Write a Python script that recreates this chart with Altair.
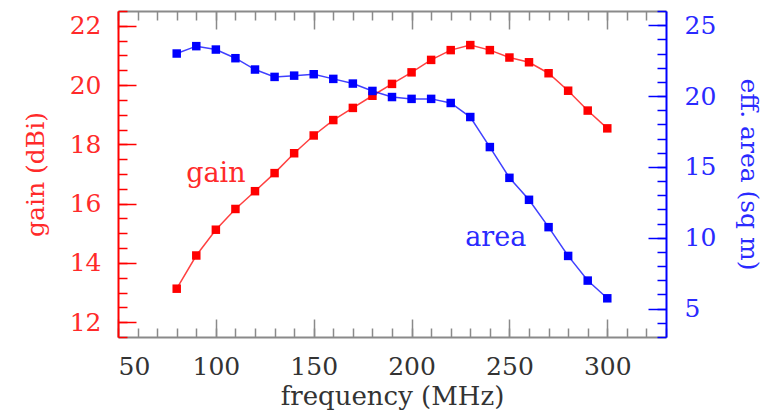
import altair as alt
import pandas as pd

# ---- data ----
freq = [80, 90, 100, 110, 120, 130, 140, 150, 160, 170, 180, 190, 200,
        210, 220, 230, 240, 250, 260, 270, 280, 290, 300]
gain = [13.13, 14.25, 15.12, 15.82, 16.42, 17.03, 17.70, 18.30, 18.82, 19.23,
        19.64, 20.04, 20.43, 20.85, 21.18, 21.35, 21.18, 20.93, 20.77, 20.40,
        19.81, 19.14, 18.54]
area = [23.0, 23.52, 23.28, 22.67, 21.87, 21.35, 21.44, 21.54, 21.21, 20.88,
        20.36, 19.93, 19.80, 19.80, 19.51, 18.52, 16.40, 14.23, 12.68, 10.75,
        8.72, 6.98, 5.73]

x_major = [50, 100, 150, 200, 250, 300]
x_minor = list(range(50, 331, 10))
gain_major = [12, 14, 16, 18, 20, 22]
gain_minor = [11.5 + 0.5 * i for i in range(23)]
area_major = [5, 10, 15, 20, 25]
area_minor = list(range(3, 27))

gain_label = {"freq": [100], "gain": [17.0], "text": ["gain"]}
area_label = {"freq": [243], "area": [10.0], "text": ["area"]}

df = pd.DataFrame({"freq": freq, "gain": gain, "area": area})
df_gl = pd.DataFrame(gain_label)
df_al = pd.DataFrame(area_label)

W, H = 548, 326
FONT = "DejaVu Serif"
RED = "#ff0000"
BLUE = "#0000ff"
RED_T = "#ff2a2a"
BLUE_T = "#2a2aff"
GRAY = "#8a8a8a"
MAJ, MIN = 18, 9
LFS = 25

xs = alt.Scale(domain=[50, 330], nice=False, zero=False)
gs = alt.Scale(domain=[11.5, 22.5], nice=False, zero=False)
ars = alt.Scale(domain=[3, 26], nice=False, zero=False)

base = alt.Chart(df)

x_lab_axis = alt.Axis(orient="bottom", values=x_major, ticks=False, grid=False,
                      domainColor=GRAY, domainWidth=2, labelPadding=17,
                      labelFont=FONT, labelFontSize=LFS, labelColor="#333333",
                      title="frequency (MHz)", titleFont=FONT, titleFontSize=26,
                      titleFontWeight="normal", titleColor="#333333",
                      titleX=W / 2, titleY=67, titleBaseline="alphabetic", titleAlign="center")
g_lab_axis = alt.Axis(orient="left", values=gain_major, ticks=False, grid=False,
                      domainColor=RED, domainWidth=2, labelPadding=17,
                      labelFont=FONT, labelFontSize=LFS, labelColor=RED_T,
                      title="gain (dBi)", titleFont=FONT, titleFontSize=25,
                      titleFontWeight="normal", titleColor=RED_T,
                      titleX=-83, titleY=H / 2, titleAngle=-90,
                      titleBaseline="middle", titleAlign="center")
gain_line = base.mark_line(color=RED, strokeWidth=1.5, opacity=0.75).encode(
    x=alt.X("freq:Q", scale=xs, axis=x_lab_axis),
    y=alt.Y("gain:Q", scale=gs, axis=g_lab_axis),
)
gain_pts = base.mark_square(color=RED, size=72, opacity=1).encode(
    x=alt.X("freq:Q", scale=xs, axis=None),
    y=alt.Y("gain:Q", scale=gs, axis=None),
)

a_lab_axis = alt.Axis(orient="right", values=area_major, ticks=False, grid=False,
                      domainColor=BLUE, domainWidth=2, labelPadding=18,
                      labelFont=FONT, labelFontSize=LFS, labelColor=BLUE_T,
                      title="eff. area (sq m)", titleFont=FONT, titleFontSize=25,
                      titleFontWeight="normal", titleColor=BLUE_T,
                      titleX=82, titleY=H / 2, titleAngle=90,
                      titleBaseline="middle", titleAlign="center")
area_line = base.mark_line(color=BLUE, strokeWidth=1.5, opacity=0.75).encode(
    x=alt.X("freq:Q", scale=xs, axis=None),
    y=alt.Y("area:Q", scale=ars, axis=a_lab_axis),
)
area_pts = base.mark_square(color=BLUE, size=72, opacity=1).encode(
    x=alt.X("freq:Q", scale=xs, axis=None),
    y=alt.Y("area:Q", scale=ars, axis=None),
)


def tick_axis(orient, values, size, color, offset, domain=False, dcolor=GRAY):
    return alt.Axis(orient=orient, values=values, ticks=True, tickSize=size,
                    tickColor=color, tickWidth=1.5, labels=False, grid=False,
                    domain=domain, domainColor=dcolor, domainWidth=2,
                    title=None, offset=offset)


def ghost(field, yscale, xaxis, yaxis):
    return base.mark_point(opacity=0).encode(
        x=alt.X("freq:Q", scale=xs, axis=xaxis),
        y=alt.Y(f"{field}:Q", scale=yscale, axis=yaxis),
    )


# inward ticks: bottom edge (top-oriented axis moved down), left edge (right-oriented moved left)
t1 = ghost("gain", gs,
           tick_axis("top", x_major, MAJ, GRAY, -H),
           tick_axis("right", gain_major, MAJ, RED, -W))
t2 = ghost("gain", gs,
           tick_axis("top", x_minor, MIN, GRAY, -H),
           tick_axis("right", gain_minor, MIN, RED, -W))
# top edge (bottom-oriented moved up), right edge (left-oriented moved right)
t3 = ghost("area", ars,
           tick_axis("bottom", x_major, MAJ, GRAY, -H, domain=True),
           tick_axis("left", area_major, MAJ, BLUE, -W))
t4 = ghost("area", ars,
           tick_axis("bottom", x_minor, MIN, GRAY, -H),
           tick_axis("left", area_minor, MIN, BLUE, -W))

gain_text = alt.Chart(df_gl).mark_text(font=FONT, fontSize=27, color=RED_T).encode(
    x=alt.X("freq:Q", scale=xs, axis=None),
    y=alt.Y("gain:Q", scale=gs, axis=None),
    text="text:N",
)
area_text = alt.Chart(df_al).mark_text(font=FONT, fontSize=27, color=BLUE_T).encode(
    x=alt.X("freq:Q", scale=xs, axis=None),
    y=alt.Y("area:Q", scale=ars, axis=None),
    text="text:N",
)

chart = alt.layer(
    t1, t2, t3, t4, gain_line, gain_pts, area_line, area_pts, gain_text, area_text
).resolve_scale(y="independent").resolve_axis(x="independent", y="independent").properties(
    width=W, height=H,
    autosize=alt.AutoSizeParams(type="none"),
    padding={"left": 110, "top": 3, "right": 107, "bottom": 74},
    background="white",
).configure_view(stroke=None)

chart.save("out.html", embed_options={"renderer": "svg", "actions": False})
